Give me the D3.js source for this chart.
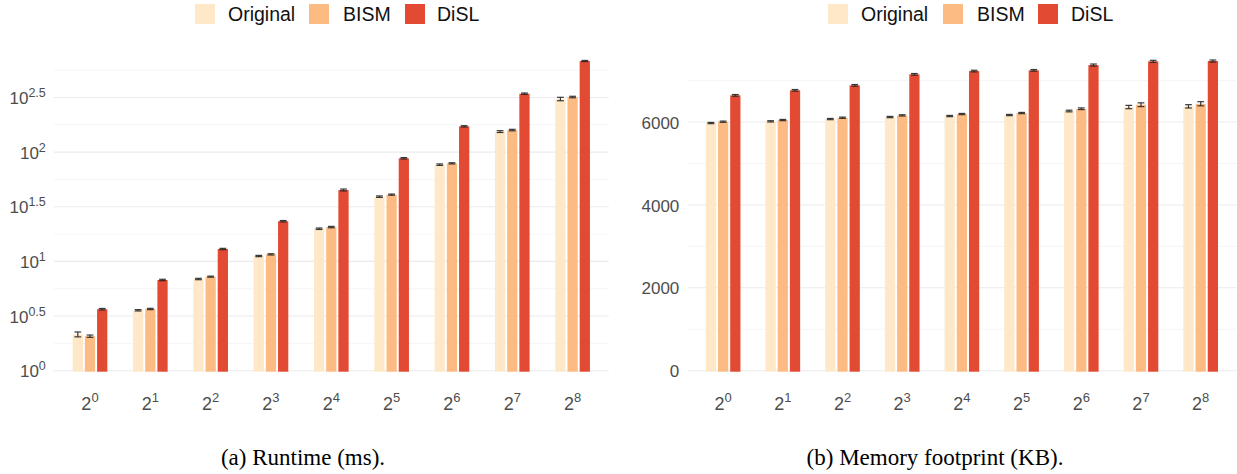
<!DOCTYPE html>
<html><head><meta charset="utf-8">
<script src="https://cdn.jsdelivr.net/npm/d3@7"></script>
<style>body{margin:0;background:#fff}svg{display:block}</style>
</head><body>
<svg id="chart" width="1237" height="474"></svg>
<script>
// ---- data ----
const categories = ["2^0","2^1","2^2","2^3","2^4","2^5","2^6","2^7","2^8"];
const exponents = ["0","1","2","3","4","5","6","7","8"];
const series = ["Original","BISM","DiSL"];
const colors = ["#fee8c8","#fdbb84","#e34a33"];

const runtimeOriginal = [2.15, 3.57, 6.90, 11.2, 19.9, 39.1, 76.7, 154, 306];
const runtimeBISM     = [2.07, 3.67, 7.25, 11.6, 20.6, 40.8, 78.9, 159, 319];
const runtimeDiSL     = [3.65, 6.76, 12.98, 23.3, 45.0, 87.7, 172, 342, 681];
const runtimeErrOriginal = [0.11, 0.05, 0.10, 0.15, 0.30, 0.60, 1.2, 3.0, 11];
const runtimeErrBISM     = [0.05, 0.05, 0.08, 0.15, 0.30, 0.50, 1.0, 2.5, 5];
const runtimeErrDiSL     = [0.06, 0.10, 0.18, 0.35, 0.90, 1.30, 2.5, 5.0, 8];

const memOriginal = [5976, 6017, 6072, 6121, 6145, 6169, 6266, 6362, 6379];
const memBISM     = [6008, 6048, 6104, 6161, 6193, 6217, 6321, 6418, 6441];
const memDiSL     = [6644, 6765, 6885, 7151, 7230, 7247, 7375, 7464, 7472];
const memErrOriginal = [15, 15, 15, 15, 15, 15, 20, 40, 40];
const memErrBISM     = [15, 15, 15, 15, 15, 15, 20, 45, 50];
const memErrDiSL     = [20, 20, 20, 20, 20, 20, 25, 25, 25];

const runtimeTicks = [0, 0.5, 1, 1.5, 2, 2.5];          // exponents of 10
const runtimeTickLabels = ["0","0.5","1","1.5","2","2.5"];
const runtimeGrid = [0,0.25,0.5,0.75,1,1.25,1.5,1.75,2,2.25,2.5,2.75];
const memTicks = [0, 2000, 4000, 6000];
const memGrid = [0,1000,2000,3000,4000,5000,6000,7000];

const captions = ["(a) Runtime (ms).", "(b) Memory footprint (KB)."];

// ---- drawing ----
const svg = d3.select("#chart");
const FONT = "'Liberation Sans', Arial, Helvetica, sans-serif";

function rows(a,b,c,ea,eb,ec){
  return categories.map((cat,i)=>({cat, exp: exponents[i], vals:[
    {s:series[0], v:a[i], e:ea[i]},
    {s:series[1], v:b[i], e:eb[i]},
    {s:series[2], v:c[i], e:ec[i]}]}));
}

function panel(opt){
  const g = svg.append("g");
  const x0 = d3.scaleBand().domain(categories).range([opt.left, opt.right]).paddingInner(0).paddingOuter(0.1);
  const x1 = d3.scaleBand().domain(series).range([-18.3, 18.3]).paddingInner(0.16).paddingOuter(0.08);
  const y = opt.y;

  // gridlines
  g.append("g").selectAll("line").data(opt.grid).join("line")
    .attr("x1", opt.left).attr("x2", opt.right)
    .attr("y1", d=>y(opt.gridVal(d))).attr("y2", d=>y(opt.gridVal(d)))
    .attr("stroke", d=>opt.isMajor(d) ? "#ebebeb" : "#f2f2f2")
    .attr("stroke-width", d=>opt.isMajor(d) ? 1.1 : 0.8);

  // y tick labels via axis
  const ax = g.append("g").attr("transform", `translate(${opt.left - 8},0)`)
    .call(d3.axisLeft(y).tickValues(opt.ticks.map(opt.gridVal)).tickSize(0).tickFormat(""));
  ax.select(".domain").remove();
  ax.selectAll(".tick text").remove();
  ax.selectAll(".tick").each(function(d,i){
    const t = d3.select(this).append("text").attr("x",0).attr("dy","0.36em")
      .attr("text-anchor","end").attr("fill","#4d4d4d")
      .style("font-family",FONT).style("font-size","17px");
    if(opt.sup){
      t.append("tspan").text("10");
      t.append("tspan").attr("dy","-7").style("font-size","12.5px").text(opt.tickLabels[i]);
    } else {
      t.text(opt.tickLabels[i]);
    }
  });

  // bars
  const data = opt.data;
  const grp = g.append("g").selectAll("g").data(data).join("g")
    .attr("transform", d=>`translate(${x0(d.cat)+x0.bandwidth()/2},0)`);
  grp.selectAll("rect").data(d=>d.vals).join("rect")
    .attr("x", d=>x1(d.s)).attr("width", x1.bandwidth())
    .attr("y", d=>y(d.v)).attr("height", d=>y(opt.base)-y(d.v)+1)
    .attr("fill", d=>colors[series.indexOf(d.s)]);
  // error bars
  const eb = grp.selectAll("g.eb").data(d=>d.vals).join("g").attr("class","eb")
    .attr("stroke","#262626").attr("stroke-width",1.2).attr("stroke-opacity",0.9);
  const cw = 3.4;
  eb.append("line").attr("x1",d=>x1(d.s)+x1.bandwidth()/2).attr("x2",d=>x1(d.s)+x1.bandwidth()/2)
    .attr("y1",d=>y(d.v+d.e)).attr("y2",d=>y(d.v-d.e));
  eb.append("line").attr("x1",d=>x1(d.s)+x1.bandwidth()/2-cw).attr("x2",d=>x1(d.s)+x1.bandwidth()/2+cw)
    .attr("y1",d=>y(d.v+d.e)).attr("y2",d=>y(d.v+d.e));
  eb.append("line").attr("x1",d=>x1(d.s)+x1.bandwidth()/2-cw).attr("x2",d=>x1(d.s)+x1.bandwidth()/2+cw)
    .attr("y1",d=>y(d.v-d.e)).attr("y2",d=>y(d.v-d.e));

  // x labels
  const xl = g.append("g").selectAll("text").data(data).join("text")
    .attr("x", d=>x0(d.cat)+x0.bandwidth()/2).attr("y", opt.xLabelY)
    .attr("text-anchor","middle").attr("fill","#4d4d4d")
    .style("font-family",FONT).style("font-size","18px");
  xl.append("tspan").text("2");
  xl.append("tspan").attr("dy","-8").style("font-size","13px").text(d=>d.exp);

  // legend
  const lg = g.append("g");
  opt.legend.forEach((p,i)=>{
    lg.append("rect").attr("x",p[0]).attr("y",4).attr("width",20).attr("height",20).attr("fill",colors[i]);
    lg.append("text").attr("x",p[1]).attr("y",14).attr("dy","0.36em")
      .style("font-family",FONT).style("font-size","19.5px").attr("fill","#111").text(series[i]);
  });

  // caption
  g.append("text").attr("x",opt.capX).attr("y",465).attr("text-anchor","middle")
    .style("font-family","'Liberation Serif','Times New Roman',serif").style("font-size","23px")
    .attr("fill","#000").text(opt.caption);
}

// runtime (log)
const yLog = d3.scaleLog().domain([1, Math.pow(10,2.75)]).range([370.7, 70.1]);
panel({
  left: 53.8, right: 608.8, y: yLog, base: 1,
  grid: runtimeGrid, gridVal: d=>Math.pow(10,d), isMajor: d=>d%0.5===0,
  ticks: runtimeTicks, tickLabels: runtimeTickLabels, sup: true,
  data: rows(runtimeOriginal, runtimeBISM, runtimeDiSL, runtimeErrOriginal, runtimeErrBISM, runtimeErrDiSL),
  xLabelY: 410,
  legend: [[195,228],[309,343],[405,437]],
  capX: 303, caption: captions[0]
});

// memory (linear)
const yLin = d3.scaleLinear().domain([0, 7000]).range([370.7, 80.6]);
panel({
  left: 687.3, right: 1236.5, y: yLin, base: 0,
  grid: memGrid, gridVal: d=>d, isMajor: d=>d%2000===0,
  ticks: memTicks, tickLabels: memTicks.map(String), sup: false,
  data: rows(memOriginal, memBISM, memDiSL, memErrOriginal, memErrBISM, memErrDiSL),
  xLabelY: 410,
  legend: [[828,861],[943,977],[1038,1071]],
  capX: 935, caption: captions[1]
});
</script>
</body></html>
